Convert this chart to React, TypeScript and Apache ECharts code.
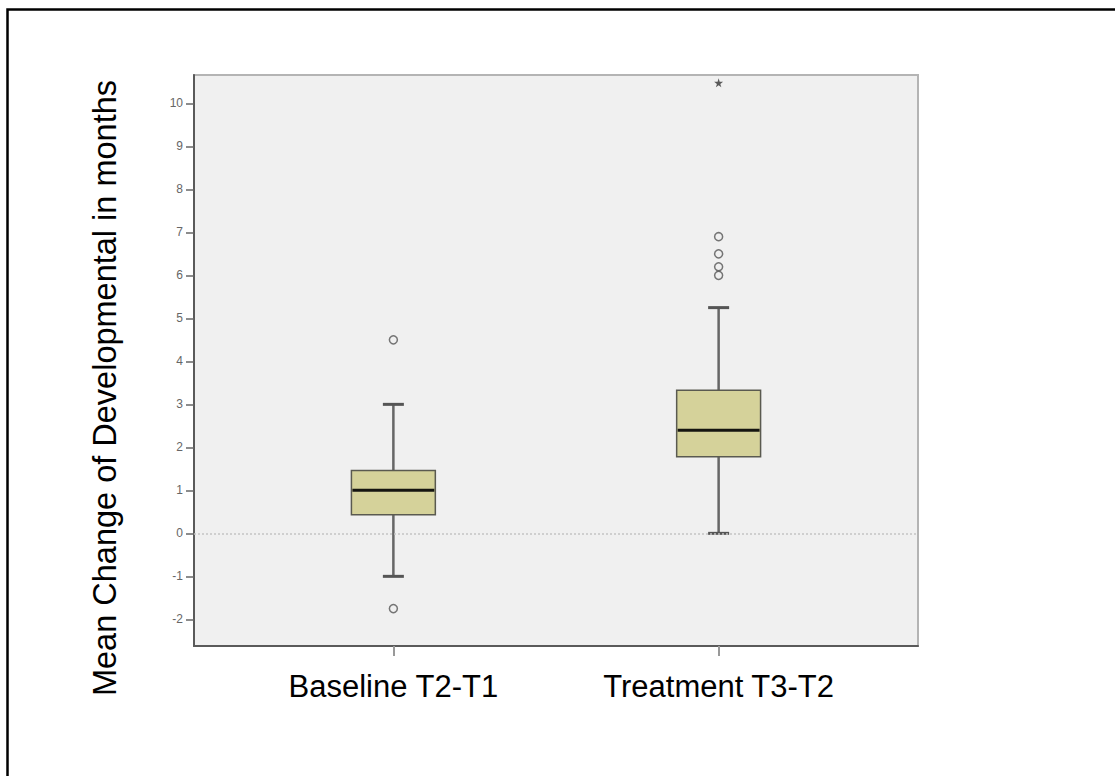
import React, { useEffect, useRef } from "react";
import * as echarts from "echarts";

const categories = ["Baseline T2-T1", "Treatment T3-T2"];
const categoryPositions = [1, 2];
// [position, lowerWhisker, q1, median, q3, upperWhisker]
const boxStats = [
  [1, -1.0, 0.43, 1.0, 1.46, 3.0],
  [2, 0.0, 1.78, 2.4, 3.33, 5.25],
];
const outliers = [
  [1, 4.5],
  [1, -1.75],
  [2, 6.9],
  [2, 6.5],
  [2, 6.2],
  [2, 6.0],
];
const extremes = [[2, 10.48]];
const yTicks = [-2, -1, 0, 1, 2, 3, 4, 5, 6, 7, 8, 9, 10];
const yTitle = "Mean Change of Developmental in months";

const FONT = "'Liberation Sans', Arial, Helvetica, sans-serif";

export default function App() {
  const ref = useRef<HTMLDivElement>(null);

  useEffect(() => {
    if (!ref.current) return;
    const chart = echarts.init(ref.current, null, { renderer: "svg" });

    const boxWidthVal = 0.258;

    const option: any = {
      animation: false,
      backgroundColor: "#ffffff",
      textStyle: { fontFamily: FONT },
      grid: {
        left: 194,
        top: 75,
        width: 724,
        height: 571,
        show: true,
        backgroundColor: "#f0f0f0",
        borderColor: "#b4b4b4",
        borderWidth: 2,
      },
      xAxis: {
        type: "value",
        min: 0.387,
        max: 2.613,
        splitLine: { show: false },
        axisLine: { show: true, onZero: false, lineStyle: { color: "#5a5a5a", width: 2 } },
        axisTick: {
          show: true,
          customValues: categoryPositions,
          length: 10,
          lineStyle: { color: "#999", width: 2 },
        },
        axisLabel: {
          customValues: categoryPositions,
          formatter: (v: number) => {
            const i = categoryPositions.indexOf(Math.round(v));
            return i >= 0 ? categories[i] : "";
          },
          color: "#000",
          fontSize: 31,
          fontFamily: FONT,
          margin: 25,
        },
      },
      yAxis: {
        type: "value",
        min: -2.62,
        max: 10.66,
        splitLine: { show: false },
        axisLine: { show: true, onZero: false, lineStyle: { color: "#5a5a5a", width: 2 } },
        axisTick: {
          show: true,
          customValues: yTicks,
          length: 8,
          lineStyle: { color: "#666", width: 1.5 },
        },
        axisLabel: {
          customValues: yTicks,
          color: "#666",
          fontSize: 12,
          fontFamily: FONT,
          margin: 11,
        },
      },
      graphic: [
        {
          type: "rect",
          shape: { x: 7.5, y: 9.5, width: 1300, height: 1000 },
          style: { fill: "none", stroke: "#000", lineWidth: 2.5 },
          silent: true,
          z: 100,
        },
        {
          type: "text",
          x: 105,
          y: 388,
          rotation: Math.PI / 2,
          style: {
            text: yTitle,
            font: `32.5px ${FONT}`,
            fill: "#000",
            align: "center",
            verticalAlign: "middle",
          },
          silent: true,
        },
      ],
      series: [
        {
          type: "line",
          data: [],
          z: 1,
          markLine: {
            silent: true,
            symbol: "none",
            label: { show: false },
            lineStyle: { type: [2, 2], color: "#c4c4c4", width: 1.5 },
            data: [{ yAxis: 0 }],
          },
        },
        {
          type: "custom",
          z: 3,
          data: boxStats,
          encode: { x: 0, y: [1, 2, 3, 4, 5] },
          renderItem: (params: any, api: any) => {
            const x = api.value(0);
            const lo = api.coord([x, api.value(1)]);
            const q1 = api.coord([x, api.value(2)]);
            const med = api.coord([x, api.value(3)]);
            const q3 = api.coord([x, api.value(4)]);
            const hi = api.coord([x, api.value(5)]);
            const bw = api.size([boxWidthVal, 0])[0];
            const cx = lo[0];
            const capHalf = 10.5;
            const whisker = { stroke: "#666", lineWidth: 2.5 };
            const cap = { stroke: "#555", lineWidth: 3 };
            return {
              type: "group",
              children: [
                { type: "line", shape: { x1: cx, y1: q3[1], x2: cx, y2: hi[1] }, style: whisker },
                { type: "line", shape: { x1: cx, y1: q1[1], x2: cx, y2: lo[1] }, style: whisker },
                { type: "line", shape: { x1: cx - capHalf, y1: hi[1], x2: cx + capHalf, y2: hi[1] }, style: cap },
                { type: "line", shape: { x1: cx - capHalf, y1: lo[1], x2: cx + capHalf, y2: lo[1] }, style: cap },
                {
                  type: "rect",
                  shape: { x: cx - bw / 2, y: q3[1], width: bw, height: q1[1] - q3[1] },
                  style: { fill: "#d5d29a", stroke: "#5a5a50", lineWidth: 1.5 },
                },
                {
                  type: "line",
                  shape: { x1: cx - bw / 2 + 1, y1: med[1], x2: cx + bw / 2 - 1, y2: med[1] },
                  style: { stroke: "#151510", lineWidth: 3 },
                },
              ],
            };
          },
        },
        {
          type: "scatter",
          z: 4,
          data: outliers,
          symbol: "circle",
          symbolSize: 8,
          itemStyle: { color: "rgba(0,0,0,0)", borderColor: "#555", borderWidth: 1.5 },
        },
        {
          type: "scatter",
          z: 4,
          data: extremes,
          symbol:
            "path://M50,0 L61,35 L98,35 L68,57 L79,91 L50,70 L21,91 L32,57 L2,35 L39,35 Z",
          symbolSize: 9,
          itemStyle: { color: "#333" },
        },
      ],
    };

    chart.setOption(option);
    return () => chart.dispose();
  }, []);

  return (
    <div
      ref={ref}
      style={{ position: "fixed", left: 0, top: 0, width: 1115, height: 776 }}
    />
  );
}
